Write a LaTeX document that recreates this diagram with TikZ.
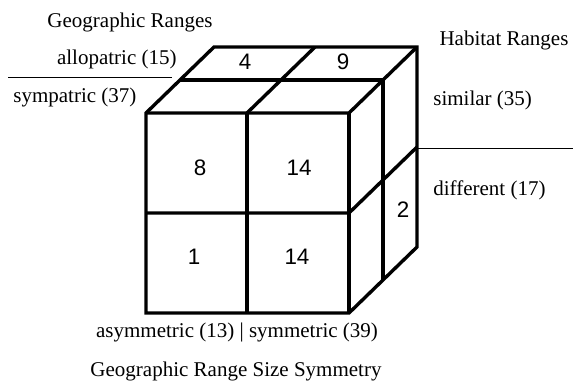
\documentclass[tikz,border=0pt]{standalone}
\usepackage{fontspec}
\setmainfont{Liberation Serif}
\newfontfamily\cellfont{Liberation Sans}
\usetikzlibrary{positioning, calc}

\begin{document}
\begin{tikzpicture}[
    x=0.5pt, y=-0.5pt,
    cubeline/.style={line width=1.7pt, line join=miter},
    ruleline/.style={line width=0.5pt},
    lbl/.style={font=\fontsize{10.5}{12}\selectfont, inner sep=0pt},
    cellnum/.style={font=\cellfont\fontsize{11.2}{13}\selectfont, inner sep=0pt},
]
\useasboundingbox (0,0) rectangle (573,391);

% ── Cube corners ────────────────────────────────────────────────────────────
\def\dx{68}
\def\dy{66}

\coordinate (ftl) at (146,113);
\coordinate (ftm) at (247,113);
\coordinate (ftr) at (349,113);
\coordinate (fml) at (146,213);
\coordinate (fmr) at (349,213);
\coordinate (fbl) at (146,313);
\coordinate (fbm) at (247,313);
\coordinate (fbr) at (349,313);

\coordinate (btl) at ($(ftl)+(\dx,-\dy)$);
\coordinate (btm) at ($(ftm)+(\dx,-\dy)$);
\coordinate (btr) at ($(ftr)+(\dx,-\dy)$);
\coordinate (bmr) at ($(fmr)+(\dx,-\dy)$);
\coordinate (bbr) at ($(fbr)+(\dx,-\dy)$);

\coordinate (mtl) at ($(ftl)!0.5!(btl)$);
\coordinate (mtr) at ($(ftr)!0.5!(btr)$);
\coordinate (mbr) at ($(fbr)!0.5!(bbr)$);

% ── Cube ────────────────────────────────────────────────────────────────────
\draw[cubeline] (ftl) -- (btl) -- (btr) -- (bbr) -- (fbr) -- (fbl) -- cycle;
\draw[cubeline] (ftl) -- (ftr) -- (btr);
\draw[cubeline] (ftr) -- (fbr);
\draw[cubeline] (fml) -- (fmr) -- (bmr);
\draw[cubeline] (ftm) -- (fbm);
\draw[cubeline] (ftm) -- (btm);
\draw[cubeline] (mtl) -- (mtr) -- (mbr);

% ── Cell counts ─────────────────────────────────────────────────────────────
\node[cellnum] (n4)   at (245,62)  {4};
\node[cellnum] (n9)   at (343,62)  {9};
\node[cellnum] (n8)   at (200,168) {8};
\node[cellnum] (n14a) at (299,168) {14};
\node[cellnum] (n1)   at (194,257) {1};
\node[cellnum] (n14b) at (297,257) {14};
\node[cellnum] (n2)   at (403,210) {2};

% ── Geographic ranges (left) ────────────────────────────────────────────────
\node[lbl] (geo)   at (130,22)             {Geographic Ranges};
\node[lbl, anchor=east] (allo) at (177,59) {allopatric (15)};
\node[lbl, anchor=west] (symp) at (13,97)  {sympatric (37)};
\coordinate (gl0) at (8,77);
\coordinate (gl1) at (172,77);
\draw[ruleline] (gl0) -- (gl1);

% ── Habitat ranges (right) ──────────────────────────────────────────────────
\node[lbl] (hab)  at (504,40)              {Habitat Ranges};
\node[lbl, anchor=west] (sim) at (433,100) {similar (35)};
\node[lbl, anchor=west] (dif) at (433,190) {different (17)};
\coordinate (hl0) at (418,148);
\coordinate (hl1) at (573,148);
\draw[ruleline] (hl0) -- (hl1);

% ── Symmetry (bottom) ───────────────────────────────────────────────────────
\node[lbl] (sym)   at (237,332) {asymmetric (13) | symmetric (39)};
\node[lbl] (title) at (236,371) {Geographic Range Size Symmetry};

\end{tikzpicture}
\end{document}
